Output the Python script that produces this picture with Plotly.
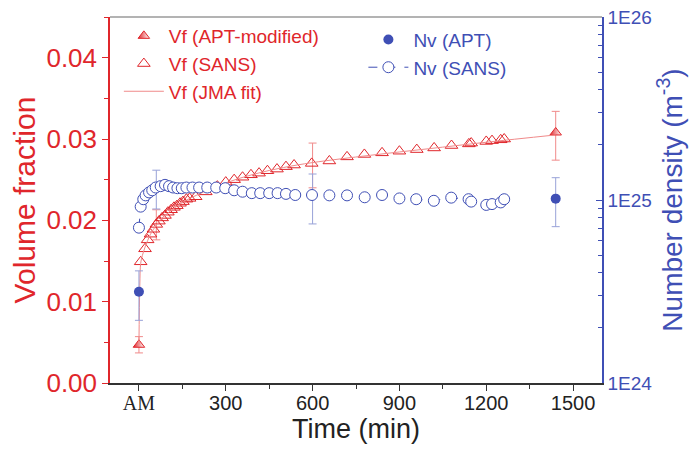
import plotly.graph_objects as go

RED = "#e0262b"
RED_LIGHT = "#f08a8a"
BLUE = "#3f4fb5"
BLUE_LIGHT = "#98a2d8"

# Vf from SANS (open triangles)
t_vf_sans = [6, 21, 30, 40, 50, 60, 69, 80, 90, 100, 111, 121, 131, 142, 152, 164, 175, 196,
             231, 271, 300, 329, 358, 387, 415, 444, 477, 508, 536, 597, 658, 719, 779, 840,
             900, 960, 1020, 1080, 1140, 1148, 1200, 1220, 1250, 1262]
vf_sans = [0.0149, 0.0165, 0.0176, 0.0183, 0.0189, 0.0195, 0.0199, 0.0203, 0.0206, 0.0210,
           0.0213, 0.0216, 0.0218, 0.0221, 0.0223, 0.0226, 0.0227, 0.0229, 0.0235, 0.0242,
           0.0247, 0.0250, 0.0253, 0.0256, 0.0258, 0.0261, 0.0263, 0.0266, 0.0268, 0.0270,
           0.0273, 0.0278, 0.0281, 0.0283, 0.0285, 0.0287, 0.0289, 0.0292, 0.0294, 0.0295,
           0.0297, 0.0298, 0.0299, 0.0300]

# Vf from APT (modified), half-filled triangles
t_vf_apt = [0, 1440]
vf_apt = [0.0047, 0.0308]
vf_apt_err_up = [0.0010, 0.0026]
vf_apt_err_dn = [0.0010, 0.0034]

# error bars on selected SANS Vf points
t_vf_err = [60, 600]
vf_err_val = [0.0195, 0.0270]
vf_err_up = [0.0018, 0.0025]
vf_err_dn = [0.0019, 0.0030]

# JMA fit curve
t_jma = [0, 3, 6, 12, 20, 30, 40, 60, 80, 100, 150, 200, 300, 400, 500, 600, 800, 1000, 1200, 1440]
vf_jma = [0.0047, 0.0120, 0.0147, 0.0157, 0.0166, 0.0175, 0.0183, 0.0194, 0.0203, 0.0209,
          0.0222, 0.0231, 0.0246, 0.0257, 0.0265, 0.0271, 0.0280, 0.0288, 0.0296, 0.0305]

# Nv from SANS (open circles)
t_nv_sans = [0, 6, 15, 23, 35, 46, 58, 75, 90, 104, 118, 133, 148, 164, 185, 208, 236, 267,
             298, 329, 358, 390, 419, 450, 479, 508, 540, 598, 658, 719, 780, 840, 900, 958,
             1019, 1079, 1139, 1148, 1200, 1220, 1250, 1262]
nv_sans = [7.06e24, 9.2e24, 1.01e25, 1.06e25, 1.10e25, 1.13e25, 1.17e25, 1.19e25, 1.21e25,
           1.19e25, 1.17e25, 1.16e25, 1.16e25, 1.17e25, 1.17e25, 1.17e25, 1.17e25, 1.17e25,
           1.16e25, 1.13e25, 1.11e25, 1.09e25, 1.09e25, 1.09e25, 1.09e25, 1.08e25, 1.065e25,
           1.065e25, 1.06e25, 1.06e25, 1.035e25, 1.065e25, 1.02e25, 1.01e25, 0.99e25, 1.03e25,
           1.01e25, 0.98e25, 0.94e25, 0.95e25, 0.97e25, 1.01e25]

t_nv_err = [60, 600]
nv_err_val = [1.17e25, 1.065e25]
nv_err_up = [0.285e25, 0.322e25]
nv_err_dn = [0.277e25, 0.325e25]

# Nv from APT (filled circles)
t_nv_apt = [0, 1440]
nv_apt = [3.15e24, 1.017e25]
nv_apt_err_up = [0.95e24, 0.307e25]
nv_apt_err_dn = [0.95e24, 0.302e25]

x_ticks = [0, 300, 600, 900, 1200, 1500]
x_ticktext = ['<span style="font-family:Liberation Serif">AM</span>', "300", "600", "900", "1200", "1500"]
nv_ticks = [1e24, 1e25, 1e26]
nv_ticktext = ["1E24", "1E25", "1E26"]
nv_minor = [m * 1e24 for m in range(2, 10)] + [m * 1e25 for m in range(2, 10)]

fig = go.Figure()

fig.add_trace(go.Scatter(
    x=t_vf_err, y=vf_err_val, mode="markers", showlegend=False,
    marker=dict(size=1, color="rgba(0,0,0,0)"),
    error_y=dict(type="data", array=vf_err_up, arrayminus=vf_err_dn, color=RED_LIGHT, thickness=1, width=4),
))
fig.add_trace(go.Scatter(
    x=t_nv_err, y=nv_err_val, yaxis="y2", mode="markers", showlegend=False,
    marker=dict(size=1, color="rgba(0,0,0,0)"),
    error_y=dict(type="data", array=nv_err_up, arrayminus=nv_err_dn, color=BLUE_LIGHT, thickness=1, width=4),
))

fig.add_trace(go.Scatter(
    x=t_vf_apt, y=vf_apt, mode="markers", name="Vf (APT-modified)", legend="legend",
    marker=dict(symbol="triangle-up", size=10, color=RED, line=dict(color=RED, width=1),
                gradient=dict(type="horizontal", color="white")),
    error_y=dict(type="data", array=vf_apt_err_up, arrayminus=vf_apt_err_dn, color=RED_LIGHT, thickness=1, width=4),
))
fig.add_trace(go.Scatter(
    x=t_vf_sans, y=vf_sans, mode="markers", name="Vf (SANS)", legend="legend",
    marker=dict(symbol="triangle-up-open", size=11, color=RED, line=dict(width=1)),
))
fig.add_trace(go.Scatter(
    x=t_jma, y=vf_jma, mode="lines", name="Vf (JMA fit)", legend="legend",
    line=dict(color=RED_LIGHT, width=1, shape="spline"),
))

fig.add_trace(go.Scatter(
    x=t_nv_apt, y=nv_apt, yaxis="y2", mode="markers", name="Nv (APT)", legend="legend2",
    marker=dict(symbol="circle", size=10, color=BLUE),
    error_y=dict(type="data", array=nv_apt_err_up, arrayminus=nv_apt_err_dn, color=BLUE_LIGHT, thickness=1, width=4),
))
fig.add_trace(go.Scatter(
    x=t_nv_sans, y=nv_sans, yaxis="y2", mode="lines+markers", name="Nv (SANS)", legend="legend2",
    marker=dict(symbol="circle", size=11, color="white", line=dict(width=1, color=BLUE)),
    line=dict(color=BLUE, width=1, dash="dash"),
))

fig.add_shape(type="line", xref="paper", yref="paper", x0=0, x1=1, y0=1, y1=1,
              line=dict(color="#9a9a9a", width=1.5))

# the page body adds an 8px offset, so the figure is a little smaller than the window
fig.update_layout(
    width=692, height=459,
    margin=dict(l=102, r=98, t=9, b=84),
    paper_bgcolor="white", plot_bgcolor="white",
    font=dict(family="Liberation Sans, Arial", color="#222"),
    xaxis=dict(
        range=[-100, 1600], tickvals=x_ticks, ticktext=x_ticktext, automargin=False,
        ticks="outside", ticklen=6, tickcolor="#333", tickfont=dict(size=20, color="#222"),
        ticklabelstandoff=-5,
        showline=True, linecolor="#333", linewidth=1.5, showgrid=False, zeroline=False,
        minor=dict(tickvals=[150, 450, 750, 1050, 1350], ticks="outside", ticklen=4, tickcolor="#333"),
        title=dict(text="Time (min)", font=dict(size=27, color="#222"), standoff=0),
    ),
    yaxis=dict(
        range=[0, 0.045], dtick=0.01, tickformat=".2f", automargin=False,
        ticks="outside", ticklen=6, tickcolor=RED, tickfont=dict(size=26, color=RED),
        showline=True, linecolor=RED, linewidth=1.5, showgrid=False, zeroline=False,
        minor=dict(dtick=0.005, ticks="outside", ticklen=4, tickcolor=RED),
        title=dict(text="Volume fraction", font=dict(size=30, color=RED), standoff=4),
    ),
    yaxis2=dict(
        type="log", range=[24, 26], overlaying="y", side="right", automargin=False,
        tickvals=nv_ticks, ticktext=nv_ticktext, ticklabeloverflow="allow",
        ticks="inside", ticklen=6, tickcolor=BLUE, tickfont=dict(size=19, color=BLUE),
        showline=True, linecolor=BLUE, linewidth=1.5, showgrid=False, zeroline=False,
        minor=dict(tickvals=nv_minor, ticks="inside", ticklen=4, tickcolor=BLUE, showgrid=False),
        title=dict(text="Number density (m<sup>-3</sup>)", font=dict(size=28, color=BLUE), standoff=8),
    ),
    legend=dict(x=0.018, y=1.0, xanchor="left", yanchor="top", bgcolor="rgba(0,0,0,0)",
                font=dict(size=19, color=RED), tracegroupgap=0, itemwidth=40),
    legend2=dict(x=0.515, y=0.99, xanchor="left", yanchor="top", bgcolor="rgba(0,0,0,0)",
                 font=dict(size=19, color=BLUE), tracegroupgap=0, itemwidth=40),
)

fig.write_html("out.html")
